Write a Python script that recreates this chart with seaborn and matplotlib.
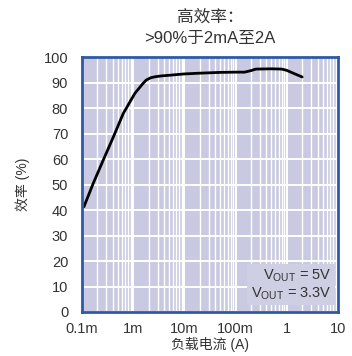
import matplotlib
matplotlib.use('Agg')
import matplotlib.pyplot as plt
import seaborn as sns
import pandas as pd
from matplotlib import font_manager

# Dati
load_current = [1.09e-4, 1.66e-4, 2.6e-4, 4.1e-4, 6.4e-4, 1.08e-3, 1.5e-3, 1.8e-3,
                2.2e-3, 2.7e-3, 3.5e-3, 5.2e-3, 1e-2, 2e-2, 5e-2, 0.1, 0.15,
                0.2, 0.25, 0.5, 0.8, 1.0, 1.3, 2.0]
efficiency = [41.3, 50.5, 59.6, 68.7, 77.9, 85.8, 89.3, 91.0,
              91.9, 92.3, 92.6, 92.9, 93.4, 93.7, 94.0, 94.1, 94.1,
              94.7, 95.3, 95.4, 95.3, 94.8, 93.8, 92.2]
x_ticks = [1e-4, 1e-3, 1e-2, 1e-1, 1, 10]
x_tick_labels = ['0.1m', '1m', '10m', '100m', '1', '10']
y_ticks = list(range(0, 101, 10))
legend_labels = ['V$_{\\mathrm{OUT}}$ = 5V', 'V$_{\\mathrm{OUT}}$ = 3.3V']

df = pd.DataFrame({'current': load_current, 'eff': efficiency})

sns.set_style('white')
names = {f.name for f in font_manager.fontManager.ttflist}
base = 'Liberation Sans Narrow' if 'Liberation Sans Narrow' in names else 'Liberation Sans'
plt.rcParams['font.family'] = [base, 'Noto Sans CJK SC', 'DejaVu Sans']
plt.rcParams['mathtext.fontset'] = 'custom'
plt.rcParams['mathtext.rm'] = base
plt.rcParams['axes.unicode_minus'] = False

txt = '#333333'
fig = plt.figure(figsize=(3.52, 3.56), dpi=100)
ax = fig.add_axes([0.233, 0.1236, 0.727, 0.716])
ax.set_facecolor('#c9c9e1')

sns.lineplot(data=df, x='current', y='eff', color='black', linewidth=2.0, ax=ax)
ax.set_xscale('log')
ax.set_xlim(1e-4, 10)
ax.set_ylim(0, 100)

ax.set_xticks(x_ticks)
ax.set_xticklabels(x_tick_labels)
ax.set_yticks(y_ticks)
ax.tick_params(axis='both', length=0, labelsize=10.5, labelcolor=txt)
ax.tick_params(axis='x', pad=7)
ax.tick_params(axis='y', pad=10)
ax.grid(True, which='major', color='white', linewidth=1.4)
ax.grid(True, which='minor', axis='x', color='white', linewidth=1.0)
ax.set_axisbelow(True)
for s in ax.spines.values():
    s.set_color('#2d5aa6')
    s.set_linewidth(2)

ax.set_xlabel('负载电流 (A)', fontsize=10, color=txt, labelpad=1)
ax.set_ylabel('效率 (%)', fontsize=10, color=txt, labelpad=10)

fig.text(0.597, 0.951, '高效率：', ha='center', va='center', fontsize=12, color=txt)
fig.text(0.597, 0.892, '>90%于2mA至2A', ha='center', va='center', fontsize=12, color=txt)

ax.text(0.975, 0.04, '\n'.join(legend_labels), transform=ax.transAxes,
        ha='right', va='bottom', fontsize=10.5, color=txt, linespacing=1.1,
        bbox=dict(boxstyle='square,pad=0.25', facecolor='#cfcfe4', edgecolor='none'))

fig.savefig('out.png', dpi=100)
